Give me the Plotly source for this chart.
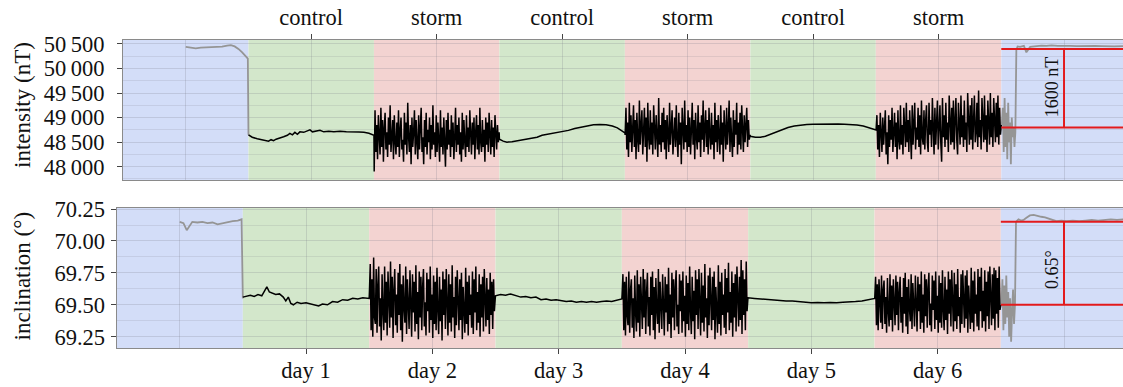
import numpy as np
import plotly.graph_objects as go

W, H = 1123, 387
FONT = "Liberation Serif"

# ---------------- data ----------------
days = [1, 2, 3, 4, 5, 6]
phase_labels = ["control", "storm", "control", "storm", "control", "storm"]
day_labels = ["day 1", "day 2", "day 3", "day 4", "day 5", "day 6"]
band_edges = [-0.5, 0.5, 1.5, 2.5, 3.5, 4.5, 5.5, 6.5, 7.5]
band_kinds = ["field", "control", "storm", "control", "storm", "control", "storm", "field"]

int_ticks = [48000, 48500, 49000, 49500, 50000, 50500]
int_ticktext = ["48\u2009000", "48\u2009500", "49\u2009000", "49\u2009500", "50\u2009000", "50\u2009500"]
inc_ticks = [69.25, 69.50, 69.75, 70.00, 70.25]
inc_ticktext = ["69.25", "69.50", "69.75", "70.00", "70.25"]

# --- intensity (nT) ---
pre_int_t = [0.00, 0.04, 0.08, 0.12, 0.17, 0.21, 0.25, 0.29, 0.33, 0.36, 0.39, 0.42, 0.45, 0.48, 0.495, 0.50]
pre_int_v = [50440, 50430, 50410, 50425, 50430, 50440, 50430, 50445, 50465, 50475, 50450, 50400, 50330, 50250, 50200, 48650]

ctl1_int_t = [0.50, 0.53, 0.57, 0.61, 0.64, 0.66, 0.68, 0.70, 0.72, 0.75, 0.78, 0.81, 0.83, 0.85, 0.87, 0.89, 0.91,
              0.94, 0.97, 0.99, 1.01, 1.04, 1.07, 1.10, 1.14, 1.18, 1.23, 1.28, 1.33, 1.38, 1.42, 1.46, 1.50]
ctl1_int_v = [48650, 48600, 48570, 48550, 48530, 48520, 48550, 48530, 48560, 48580, 48610, 48640, 48680, 48650, 48700,
              48660, 48710, 48700, 48730, 48750, 48710, 48730, 48740, 48710, 48720, 48710, 48720, 48710, 48715, 48705,
              48700, 48680, 48640]

storm1_int_v = [
    47900, 49150, 48300, 48850, 48150, 49050, 48600, 48250, 49200, 48400, 48950, 48100, 48800, 49100, 48350,
    48700, 48200, 49000, 48450, 49250, 48300, 48650, 48950, 48150, 49050, 48500, 48250, 48900, 48400, 49150,
    48200, 48750, 49000, 48350, 48550, 48100, 49100, 48450, 48900, 48250, 49300, 48600, 48300, 48850, 48050,
    49000, 48400, 48700, 49150, 48250, 48950, 48500, 48150, 49050, 48350, 48800, 49200, 48300, 48600, 48050,
    48950, 48400, 49100, 48250, 48750, 48500, 49000, 48150, 48850, 48350, 49250, 48450, 48700, 48200, 49050,
    48300, 48900, 48550, 48100, 49150, 48400, 48800, 48250, 49000, 48650, 48000, 48950, 48350, 49100, 48450,
    48750, 48200, 49050, 48400, 48900, 48150, 48600, 49200, 48300, 48850, 48450, 49000, 48250, 48700, 48100,
    49100, 48350, 48950, 48500, 48200, 49050, 48400, 48800, 48300, 49150, 48550, 48250, 48900, 48450, 49000,
    48150, 48700, 49050, 48350, 48850, 48250, 49200, 48500, 48300, 48950, 48400, 48750, 48100, 49000, 48450,
    48900, 48300, 49100, 48550, 48250, 48950, 48400, 48800, 48200, 49050, 48600, 48350, 48850, 48500, 48700]

ctl2_int_t = [2.50, 2.53, 2.56, 2.60, 2.64, 2.68, 2.72, 2.76, 2.80, 2.84, 2.88, 2.92, 2.96, 3.00, 3.05, 3.10, 3.15,
              3.20, 3.25, 3.30, 3.35, 3.40, 3.44, 3.47, 3.50]
ctl2_int_v = [48560, 48520, 48500, 48510, 48530, 48540, 48560, 48580, 48600, 48640, 48660, 48680, 48690, 48710, 48740,
              48780, 48810, 48840, 48855, 48860, 48855, 48830, 48790, 48740, 48690]

storm2_int_v = [
    48650, 49200, 48350, 48900, 48200, 49300, 48500, 49050, 48300, 48800, 49250, 48400, 48950, 48150, 49100,
    48550, 48300, 49350, 48450, 48850, 49150, 48250, 48700, 49200, 48400, 49000, 48100, 49300, 48600, 48350,
    49150, 48450, 48900, 48250, 49250, 48550, 48350, 49050, 48700, 48200, 49400, 48450, 48850, 48300, 49100,
    48500, 49200, 48350, 48950, 48150, 49050, 48600, 48300, 49300, 48450, 48800, 49150, 48250, 48700, 49000,
    48400, 49250, 48550, 48200, 49100, 48450, 48900, 48050, 49200, 48650, 48350, 49350, 48500, 48850, 48300,
    49150, 48400, 49000, 48250, 48750, 49300, 48450, 48950, 48150, 49100, 48600, 48350, 49250, 48500, 48900,
    48200, 49050, 48550, 49350, 48300, 48800, 49150, 48400, 48950, 48250, 49200, 48650, 48350, 49100, 48450,
    48850, 48150, 49300, 48500, 48950, 48300, 49050, 48700, 48250, 49250, 48450, 48900, 48100, 49150, 48550,
    48350, 49200, 48450, 48800, 49350, 48300, 49000, 48550, 48200, 49150, 48400, 48950, 48650, 49300, 48250,
    48900, 48450, 49100, 48350, 49250, 48600, 48300, 49050, 48500, 48850, 49200, 48400, 48950, 48550, 48650]

ctl3_int_t = [4.50, 4.54, 4.58, 4.62, 4.66, 4.70, 4.75, 4.80, 4.85, 4.90, 4.95, 5.00, 5.05, 5.10, 5.15, 5.20, 5.25,
              5.30, 5.35, 5.40, 5.44, 5.47, 5.50]
ctl3_int_v = [48620, 48600, 48600, 48620, 48660, 48710, 48760, 48800, 48830, 48850, 48860, 48865, 48870, 48870, 48870,
              48870, 48865, 48860, 48850, 48830, 48800, 48770, 48740]

storm3_int_v = [
    48750, 49050, 48350, 48850, 48200, 49100, 48500, 48300, 49000, 48450, 48800, 49150, 48250, 48700, 48050,
    49050, 48400, 48950, 48550, 49200, 48300, 48750, 49100, 48400, 48900, 48150, 49150, 48550, 48350, 49250,
    48450, 48850, 48250, 49200, 48600, 48400, 49300, 48500, 48950, 48300, 49150, 48700, 48150, 49250, 48450,
    48900, 49300, 48350, 48800, 48550, 49200, 48400, 49050, 48250, 49350, 48600, 48450, 49150, 48350, 48950,
    49250, 48500, 48300, 49300, 48650, 48950, 48400, 49400, 48550, 48250, 49200, 48450, 48900, 49350, 48350,
    48750, 49250, 48500, 48100, 49400, 48600, 49050, 48400, 49300, 48550, 48900, 48300, 49450, 48650, 48450,
    49200, 48500, 49350, 48350, 48950, 49400, 48550, 48250, 49300, 48700, 48450, 49450, 48600, 49050, 48400,
    49350, 48550, 48900, 48300, 49500, 48650, 48450, 49250, 48550, 49400, 48350, 48950, 49450, 48500, 48700,
    49300, 48400, 49550, 48600, 48950, 48350, 49400, 48700, 48500, 49450, 48550, 49050, 48300, 49350, 48650,
    48450, 49500, 48600, 49100, 48400, 49400, 48750, 48500, 49300, 48600, 49450, 48450, 49200, 48650, 48850]

post_int_noise_v = [48900, 49200, 48300, 49400, 48400, 49100, 48150, 49300, 48500, 48900, 48050, 49000, 48600, 48800,
                    48400, 48700]
post_int_t = [6.62, 6.63, 6.65, 6.68, 6.70, 6.73, 6.78, 6.82, 6.86, 6.90, 6.95, 7.00, 7.05, 7.10, 7.15, 7.20, 7.25,
              7.30, 7.35, 7.40, 7.47]
post_int_v = [50380, 50450, 50440, 50460, 50330, 50440, 50460, 50465, 50460, 50470, 50460, 50465, 50460, 50455, 50460,
              50455, 50460, 50455, 50460, 50450, 50455]

# --- inclination (deg) ---
pre_inc_t = [0.00, 0.03, 0.056, 0.08, 0.10, 0.14, 0.18, 0.22, 0.26, 0.30, 0.34, 0.38, 0.42, 0.46, 0.49, 0.50]
pre_inc_v = [70.150, 70.140, 70.085, 70.120, 70.150, 70.145, 70.150, 70.140, 70.145, 70.130, 70.140, 70.150, 70.155,
             70.160, 70.170, 69.550]

ctl1_inc_t = [0.50, 0.53, 0.56, 0.59, 0.62, 0.65, 0.67, 0.69, 0.71, 0.73, 0.76, 0.79, 0.82, 0.84, 0.86, 0.88, 0.90,
              0.93, 0.96, 1.00, 1.04, 1.07, 1.10, 1.13, 1.17, 1.21, 1.25, 1.29, 1.33, 1.37, 1.41, 1.45, 1.48, 1.50]
ctl1_inc_v = [69.560, 69.570, 69.575, 69.565, 69.580, 69.570, 69.600, 69.640, 69.600, 69.590, 69.580, 69.585, 69.560,
              69.530, 69.560, 69.510, 69.500, 69.520, 69.510, 69.515, 69.505, 69.500, 69.490, 69.505, 69.500, 69.525,
              69.520, 69.540, 69.535, 69.550, 69.545, 69.555, 69.550, 69.550]

storm1_inc_v = [
    69.60, 69.82, 69.30, 69.70, 69.25, 69.87, 69.40, 69.35, 69.78, 69.28, 69.65, 69.80, 69.33, 69.55, 69.22,
    69.74, 69.45, 69.30, 69.80, 69.36, 69.68, 69.26, 69.76, 69.50, 69.32, 69.84, 69.40, 69.72, 69.24, 69.62,
    69.78, 69.34, 69.58, 69.28, 69.75, 69.42, 69.82, 69.30, 69.66, 69.21, 69.73, 69.48, 69.36, 69.80, 69.27,
    69.70, 69.55, 69.31, 69.77, 69.38, 69.25, 69.74, 69.44, 69.68, 69.29, 69.81, 69.35, 69.60, 69.23, 69.76,
    69.40, 69.72, 69.30, 69.64, 69.78, 69.33, 69.52, 69.26, 69.75, 69.45, 69.70, 69.28, 69.80, 69.38, 69.58,
    69.24, 69.73, 69.35, 69.68, 69.30, 69.79, 69.46, 69.27, 69.72, 69.37, 69.62, 69.22, 69.76, 69.42, 69.70,
    69.31, 69.78, 69.50, 69.26, 69.74, 69.36, 69.66, 69.29, 69.81, 69.40, 69.56, 69.24, 69.72, 69.34, 69.77,
    69.45, 69.30, 69.70, 69.38, 69.75, 69.23, 69.64, 69.48, 69.28, 69.79, 69.35, 69.68, 69.26, 69.73, 69.42,
    69.58, 69.32, 69.76, 69.27, 69.70, 69.44, 69.80, 69.30, 69.60, 69.36, 69.74, 69.25, 69.66, 69.40, 69.72,
    69.29, 69.78, 69.46, 69.33, 69.71, 69.38, 69.62, 69.27, 69.75, 69.42, 69.68, 69.31, 69.70, 69.45, 69.55]

ctl2_inc_t = [2.50, 2.54, 2.58, 2.62, 2.66, 2.70, 2.74, 2.78, 2.82, 2.86, 2.90, 2.94, 2.98, 3.02, 3.06, 3.10, 3.14,
              3.18, 3.22, 3.26, 3.30, 3.34, 3.38, 3.42, 3.46, 3.50]
ctl2_inc_v = [69.570, 69.580, 69.575, 69.585, 69.570, 69.560, 69.565, 69.555, 69.560, 69.540, 69.545, 69.535, 69.540,
              69.530, 69.525, 69.530, 69.520, 69.525, 69.520, 69.525, 69.520, 69.525, 69.530, 69.525, 69.535, 69.545]

storm2_inc_v = [
    69.58, 69.74, 69.30, 69.68, 69.26, 69.72, 69.42, 69.34, 69.76, 69.28, 69.62, 69.70, 69.32, 69.55, 69.24,
    69.73, 69.44, 69.29, 69.77, 69.36, 69.66, 69.25, 69.72, 69.50, 69.31, 69.78, 69.40, 69.70, 69.27, 69.60,
    69.75, 69.33, 69.56, 69.26, 69.72, 69.42, 69.76, 69.30, 69.64, 69.23, 69.71, 69.46, 69.35, 69.78, 69.28,
    69.68, 69.52, 69.31, 69.74, 69.38, 69.26, 69.72, 69.44, 69.66, 69.29, 69.79, 69.35, 69.58, 69.24, 69.75,
    69.40, 69.70, 69.30, 69.63, 69.77, 69.33, 69.50, 69.27, 69.74, 69.45, 69.69, 69.28, 69.76, 69.37, 69.57,
    69.25, 69.73, 69.35, 69.67, 69.30, 69.80, 69.46, 69.27, 69.72, 69.37, 69.61, 69.23, 69.77, 69.42, 69.70,
    69.31, 69.78, 69.49, 69.26, 69.75, 69.36, 69.65, 69.29, 69.82, 69.40, 69.55, 69.24, 69.73, 69.34, 69.79,
    69.44, 69.30, 69.72, 69.38, 69.76, 69.23, 69.64, 69.48, 69.28, 69.81, 69.35, 69.68, 69.26, 69.75, 69.42,
    69.58, 69.32, 69.78, 69.27, 69.71, 69.44, 69.83, 69.30, 69.60, 69.36, 69.76, 69.25, 69.67, 69.40, 69.74,
    69.29, 69.80, 69.46, 69.33, 69.72, 69.38, 69.85, 69.27, 69.77, 69.42, 69.70, 69.30, 69.84, 69.45, 69.55]

ctl3_inc_t = [4.50, 4.55, 4.60, 4.65, 4.70, 4.75, 4.80, 4.85, 4.90, 4.95, 5.00, 5.05, 5.10, 5.15, 5.20, 5.25, 5.30,
              5.35, 5.40, 5.45, 5.50]
ctl3_inc_v = [69.555, 69.550, 69.545, 69.545, 69.540, 69.535, 69.530, 69.530, 69.525, 69.520, 69.515, 69.518, 69.515,
              69.518, 69.515, 69.520, 69.520, 69.525, 69.530, 69.540, 69.550]

storm3_inc_v = [
    69.55, 69.72, 69.34, 69.66, 69.30, 69.70, 69.44, 69.36, 69.73, 69.31, 69.62, 69.69, 69.35, 69.56, 69.28,
    69.71, 69.45, 69.33, 69.74, 69.38, 69.65, 69.29, 69.70, 69.50, 69.34, 69.73, 69.42, 69.68, 69.30, 69.60,
    69.72, 69.36, 69.56, 69.28, 69.71, 69.43, 69.75, 69.33, 69.64, 69.27, 69.70, 69.47, 69.37, 69.74, 69.31,
    69.67, 69.52, 69.33, 69.73, 69.39, 69.29, 69.72, 69.45, 69.66, 69.31, 69.76, 69.36, 69.58, 69.28, 69.74,
    69.41, 69.70, 69.32, 69.63, 69.75, 69.34, 69.51, 69.29, 69.73, 69.46, 69.69, 69.31, 69.76, 69.38, 69.57,
    69.28, 69.73, 69.36, 69.67, 69.32, 69.77, 69.46, 69.30, 69.72, 69.38, 69.62, 69.27, 69.76, 69.43, 69.70,
    69.33, 69.77, 69.50, 69.29, 69.75, 69.37, 69.66, 69.31, 69.78, 69.41, 69.56, 69.28, 69.74, 69.35, 69.77,
    69.45, 69.32, 69.73, 69.39, 69.77, 69.28, 69.65, 69.49, 69.31, 69.79, 69.36, 69.69, 69.29, 69.76, 69.43,
    69.58, 69.33, 69.78, 69.30, 69.72, 69.45, 69.79, 69.32, 69.61, 69.37, 69.77, 69.29, 69.68, 69.41, 69.76,
    69.31, 69.80, 69.47, 69.34, 69.74, 69.39, 69.79, 69.30, 69.77, 69.43, 69.71, 69.32, 69.80, 69.46, 69.50]

post_inc_noise_v = [69.50, 69.70, 69.30, 69.65, 69.35, 69.73, 69.40, 69.60, 69.25, 69.55, 69.21, 69.45, 69.62, 69.35,
                    69.50]
post_inc_t = [6.62, 6.64, 6.66, 6.68, 6.70, 6.73, 6.76, 6.79, 6.82, 6.85, 6.88, 6.91, 6.94, 6.98, 7.02, 7.07, 7.12,
              7.17, 7.22, 7.27, 7.32, 7.37, 7.42, 7.47]
post_inc_v = [70.150, 70.170, 70.160, 70.165, 70.180, 70.200, 70.205, 70.195, 70.190, 70.185, 70.175, 70.165, 70.155,
              70.160, 70.155, 70.160, 70.155, 70.160, 70.165, 70.160, 70.165, 70.170, 70.165, 70.170]

# reference (difference) markers
diff_int = [48800, 50400]
diff_inc = [69.50, 70.15]
diff_start, diff_end, diff_day = 6.5, 7.6, 7.0
diff_int_label, diff_inc_label = "1600 nT", "0.65°"


def sample_times(t0, t1, n):
    """Regular sampling instants for a recorded segment."""
    return list(np.linspace(t0, t1, n))


def build(ctl1_t, ctl1_v, s1, ctl2_t, ctl2_v, s2, ctl3_t, ctl3_v, s3):
    t = (ctl1_t + sample_times(1.502, 2.498, len(s1)) + ctl2_t + sample_times(3.502, 4.498, len(s2))
         + ctl3_t + sample_times(5.502, 6.5, len(s3)))
    v = ctl1_v + s1 + ctl2_v + s2 + ctl3_v + s3
    return t, v


blk_int_t, blk_int_v = build(ctl1_int_t, ctl1_int_v, storm1_int_v, ctl2_int_t, ctl2_int_v, storm2_int_v,
                             ctl3_int_t, ctl3_int_v, storm3_int_v)
blk_inc_t, blk_inc_v = build(ctl1_inc_t, ctl1_inc_v, storm1_inc_v, ctl2_inc_t, ctl2_inc_v, storm2_inc_v,
                             ctl3_inc_t, ctl3_inc_v, storm3_inc_v)

gry_int_t = pre_int_t + [None] + [6.5] + sample_times(6.505, 6.612, len(post_int_noise_v)) + post_int_t
gry_int_v = pre_int_v + [None] + [storm3_int_v[-1]] + post_int_noise_v + post_int_v
gry_inc_t = pre_inc_t + [None] + [6.5] + sample_times(6.505, 6.612, len(post_inc_noise_v)) + post_inc_t
gry_inc_v = pre_inc_v + [None] + [storm3_inc_v[-1]] + post_inc_noise_v + post_inc_v

# ---------------- styles ----------------
BAND_COLORS = {"field": "#d3ddf8", "control": "#d3e7cb", "storm": "#f3d3d1"}
BLACK, GREY, RED = "#000000", "#959595", "#e31a1c"
GRID = "rgba(120,120,130,0.22)"
MINOR_GRID = "rgba(120,120,130,0.16)"
AXLINE = "#8a8a8a"

fig = go.Figure()

fig.add_trace(go.Scatter(x=gry_int_t, y=gry_int_v, mode="lines", line=dict(color=GREY, width=1.8),
                         xaxis="x", yaxis="y", showlegend=False, connectgaps=False))
fig.add_trace(go.Scatter(x=blk_int_t, y=blk_int_v, mode="lines", line=dict(color=BLACK, width=1.5),
                         xaxis="x", yaxis="y", showlegend=False))
fig.add_trace(go.Scatter(x=gry_inc_t, y=gry_inc_v, mode="lines", line=dict(color=GREY, width=1.8),
                         xaxis="x2", yaxis="y2", showlegend=False, connectgaps=False))
fig.add_trace(go.Scatter(x=blk_inc_t, y=blk_inc_v, mode="lines", line=dict(color=BLACK, width=1.5),
                         xaxis="x2", yaxis="y2", showlegend=False))

# red difference markers
for xa, ya, d in (("x", "y", diff_int), ("x2", "y2", diff_inc)):
    for level in d:
        fig.add_trace(go.Scatter(x=[diff_start, diff_end], y=[level, level], mode="lines",
                                 line=dict(color=RED, width=2), xaxis=xa, yaxis=ya, showlegend=False))
    fig.add_trace(go.Scatter(x=[diff_day, diff_day], y=d, mode="lines", line=dict(color=RED, width=2),
                             xaxis=xa, yaxis=ya, showlegend=False))

# background bands
shapes = []
for xref, yref in (("x", "y domain"), ("x2", "y2 domain")):
    for i, kind in enumerate(band_kinds):
        shapes.append(dict(type="rect", xref=xref, yref=yref, x0=band_edges[i], x1=band_edges[i + 1], y0=0, y1=1,
                           fillcolor=BAND_COLORS[kind], line=dict(width=0), layer="below"))

tick_font = dict(family=FONT, size=22.5, color="#111")
common_x = dict(showline=True, linecolor=AXLINE, linewidth=1, mirror=True, ticks="outside", ticklen=5,
                tickcolor="#444", tickwidth=1.2, showgrid=True, gridcolor=GRID, gridwidth=1, zeroline=False,
                tickfont=tick_font, tickvals=days, automargin=False,
                minor=dict(tickvals=[0, 7], showgrid=True, gridcolor=GRID, ticks=""))
common_y = dict(showline=True, linecolor=AXLINE, linewidth=1, mirror=True, ticks="outside", ticklen=5,
                tickcolor="#444", tickwidth=1.2, showgrid=True, gridcolor=GRID, gridwidth=1, zeroline=False,
                tickfont=tick_font, automargin=False)

top_dom = [1 - 180 / H, 1 - 40 / H]
bot_dom = [1 - 348 / H, 1 - 207.5 / H]

fig.update_layout(
    width=W, height=H, margin=dict(l=0, r=0, t=0, b=0, autoexpand=False), autosize=False,
    paper_bgcolor="white", plot_bgcolor="white", showlegend=False,
    font=dict(family=FONT, size=22.5, color="#111"),
    shapes=shapes,
    xaxis=dict(common_x, domain=[123 / W, 1], range=[-0.5, 7.47], anchor="y", side="top",
               ticktext=phase_labels, ticklabelstandoff=0),
    yaxis=dict(common_y, domain=top_dom, range=[47729, 50581], anchor="x", tickvals=int_ticks,
               ticktext=int_ticktext, ticklabelstandoff=8,
               minor=dict(tickvals=[47750, 48250, 48750, 49250, 49750, 50250], showgrid=True,
                          gridcolor=MINOR_GRID, ticks="")),
    xaxis2=dict(common_x, domain=[116.5 / W, 1], range=[-0.5, 7.467], anchor="y2", side="bottom",
                ticktext=day_labels, ticklabelstandoff=-3),
    yaxis2=dict(common_y, domain=bot_dom, range=[69.161, 70.2625], anchor="x2", tickvals=inc_ticks,
                ticktext=inc_ticktext, ticklabelstandoff=1,
                minor=dict(tickvals=[69.375, 69.625, 69.875, 70.125], showgrid=True,
                           gridcolor=MINOR_GRID, ticks="")),
    annotations=[
        dict(text="intensity (nT)", xref="paper", yref="paper", x=22 / W, y=1 - 105 / H, textangle=-90,
             showarrow=False, font=dict(family=FONT, size=23, color="#111"), xanchor="center", yanchor="middle"),
        dict(text="inclination (°)", xref="paper", yref="paper", x=22 / W, y=1 - 276.5 / H, textangle=-90,
             showarrow=False, font=dict(family=FONT, size=23, color="#111"), xanchor="center", yanchor="middle"),
        dict(text=diff_int_label, xref="x", yref="y", x=6.90, y=49630, textangle=-90, showarrow=False,
             font=dict(family=FONT, size=18, color="#111"), xanchor="center", yanchor="middle"),
        dict(text=diff_inc_label, xref="x2", yref="y2", x=6.90, y=69.775, textangle=-90, showarrow=False,
             font=dict(family=FONT, size=18, color="#111"), xanchor="center", yanchor="middle"),
    ],
)

fig.write_html("out.html", config={"displayModeBar": False},
               post_script="document.body.style.margin='0';document.body.style.overflow='hidden';")
